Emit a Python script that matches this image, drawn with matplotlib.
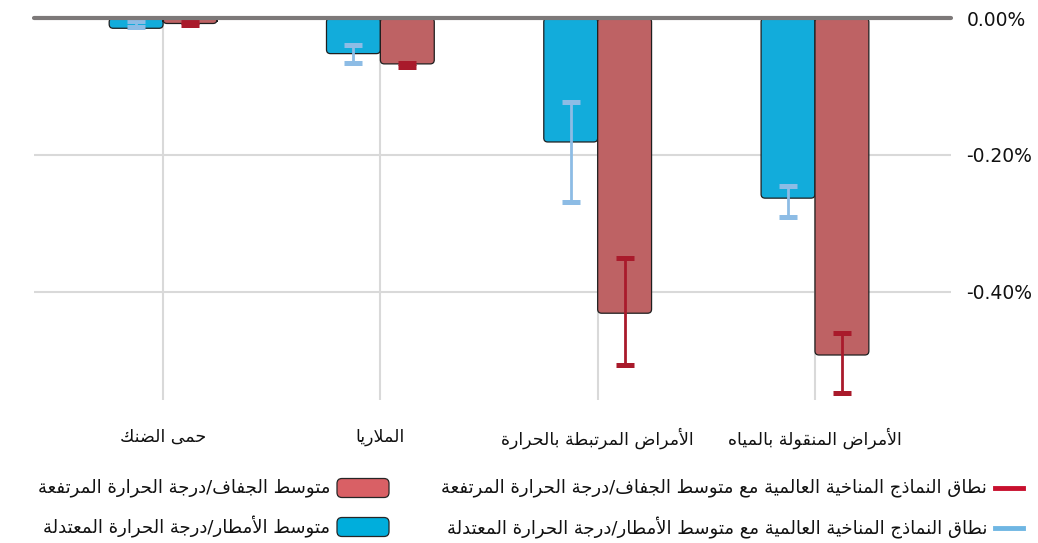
import matplotlib
matplotlib.use("Agg")
import matplotlib.pyplot as plt
from matplotlib.patches import FancyBboxPatch
from matplotlib.lines import Line2D
from matplotlib.transforms import IdentityTransform
from matplotlib.ticker import FixedLocator, FuncFormatter
import numpy as np

# ---------------------------------------------------------------- data (%)
categories = [
    "الأمراض المنقولة بالمياه",
    "الأمراض المرتبطة بالحرارة",
    "الملاريا",
    "حمى الضنك",
]
wet_mean = [-0.263, -0.181, -0.052, -0.015]      # متوسط الأمطار/درجة الحرارة المعتدلة
dry_mean = [-0.492, -0.431, -0.067, -0.008]      # متوسط الجفاف/درجة الحرارة المرتفعة
wet_range_hi = [-0.246, -0.123, -0.039, -0.004]
wet_range_lo = [-0.291, -0.269, -0.065, -0.013]
dry_range_hi = [-0.460, -0.350, -0.066, -0.006]
dry_range_lo = [-0.547, -0.507, -0.072, -0.010]
y_ticks = [0.0, -0.2, -0.4]

label_dry = "متوسط الجفاف/درجة الحرارة المرتفعة"
label_wet = "متوسط الأمطار/درجة الحرارة المعتدلة"
label_dry_rng = "نطاق النماذج المناخية العالمية مع متوسط الجفاف/درجة الحرارة المرتفعة"
label_wet_rng = "نطاق النماذج المناخية العالمية مع متوسط الأمطار/درجة الحرارة المعتدلة"

# ------------------------------------------------ minimal Arabic shaping
_LETTERS = "ءآأؤإئابةتثجحخدذرزسشصضطظعغفقكلمنهوىي"
_NFORMS = [1, 2, 2, 2, 2, 4, 2, 4, 2, 4, 4, 4, 4, 4, 2, 2, 2, 2,
           4, 4, 4, 4, 4, 4, 4, 4, 4, 4, 4, 4, 4, 4, 4, 2, 2, 4]
_FORMS = {}
_cp = 0xFE80
for _ch, _n in zip(_LETTERS, _NFORMS):
    _FORMS[_ch] = [chr(_cp + i) for i in range(_n)]
    _cp += _n
_LAM_ALEF = {"آ": 0xFEF5, "أ": 0xFEF7, "إ": 0xFEF9, "ا": 0xFEFB}


def shape_arabic(text):
    """Contextual forms + lam-alef ligatures, returned in visual order."""
    units = []
    i = 0
    while i < len(text):
        ch = text[i]
        if ch == "ل" and i + 1 < len(text) and text[i + 1] in _LAM_ALEF:
            base = _LAM_ALEF[text[i + 1]]
            units.append((ch, [chr(base), chr(base + 1)]))
            i += 2
            continue
        units.append((ch, _FORMS.get(ch)))
        i += 1
    out = []
    for k, (ch, forms) in enumerate(units):
        if forms is None:
            out.append(ch)
            continue
        if len(forms) == 1:
            out.append(forms[0])
            continue
        prev = units[k - 1][1] if k > 0 else None
        nxt = units[k + 1][1] if k + 1 < len(units) else None
        jp = prev is not None and len(prev) == 4
        jn = len(forms) == 4 and nxt is not None and len(nxt) >= 2
        if jp and jn:
            out.append(forms[3])
        elif jp:
            out.append(forms[1])
        elif jn:
            out.append(forms[2])
        else:
            out.append(forms[0])
    return "".join(reversed(out))


# ---------------------------------------------------------------- styling
W, H = 1038, 543
plt.rcParams["font.family"] = ["DejaVu Sans"]
plt.rcParams["axes.unicode_minus"] = False

C_WET = "#12acdb"
C_DRY = "#be6264"
C_WET_ERR = "#8dbce5"
C_DRY_ERR = "#a91a2b"
C_GRID = "#d9d9d9"
C_ZERO = "#7d7979"
C_TEXT = "#111111"

fig = plt.figure(figsize=(W / 100, H / 100), dpi=100)
ax = fig.add_axes([34 / W, 1 - 400 / H, (951 - 34) / W, (400 - 18) / H])

x = np.arange(len(categories))
bw = 0.248
ax.set_xlim(3.594, -0.626)          # right-to-left category order
ax.set_ylim(-0.5577, 0.0)

for s in ax.spines.values():
    s.set_visible(False)

# grid
for yv in y_ticks[1:]:
    ax.axhline(yv, color=C_GRID, lw=1.5, zorder=0)
for xv in x:
    ax.axvline(xv, color=C_GRID, lw=1.5, zorder=0)

# bars with rounded corners
px_x = (ax.get_xlim()[0] - ax.get_xlim()[1]) / (951 - 34)
px_y = (ax.get_ylim()[1] - ax.get_ylim()[0]) / (400 - 18)
bars_wet = ax.bar(x + bw / 2, wet_mean, bw, color=C_WET)
bars_dry = ax.bar(x - bw / 2, dry_mean, bw, color=C_DRY)
for bars, col in ((bars_wet, C_WET), (bars_dry, C_DRY)):
    for r in bars:
        r.set_visible(False)
        y0 = min(r.get_y(), r.get_y() + r.get_height())
        h = abs(r.get_height())
        x0 = min(r.get_x(), r.get_x() + r.get_width())
        w = abs(r.get_width())
        p = FancyBboxPatch((x0, y0), w, h,
                           boxstyle=f"round,pad=0,rounding_size={4 * px_x}",
                           mutation_aspect=px_y / px_x,
                           facecolor=col, edgecolor="#1f1f1f", lw=0.9, zorder=2)
        ax.add_patch(p)

# model ranges
for xs, lo, hi, col in ((x + bw / 2, wet_range_lo, wet_range_hi, C_WET_ERR),
                        (x - bw / 2, dry_range_lo, dry_range_hi, C_DRY_ERR)):
    lo = np.array(lo)
    hi = np.array(hi)
    ax.errorbar(xs, (lo + hi) / 2, yerr=(hi - lo) / 2, fmt="none", ecolor=col,
                elinewidth=2.0, capsize=6.2, capthick=3.6, zorder=3)

# zero line
ax.axhline(0, color=C_ZERO, lw=3.0, solid_capstyle="round", zorder=5, clip_on=False)

# axes ticks
ax.yaxis.tick_right()
ax.yaxis.set_major_locator(FixedLocator(y_ticks))
ax.yaxis.set_major_formatter(FuncFormatter(lambda v, _: f"{v:.2f}%"))
ax.tick_params(axis="y", length=0, pad=11, labelsize=13.5, labelcolor=C_TEXT)
ax.set_xticks(x, [shape_arabic(c) for c in categories])
ax.tick_params(axis="x", length=0, pad=20, labelsize=12.5, labelcolor=C_TEXT)

# legend (drawn in pixel coordinates)
pix = IdentityTransform()


def py(y):
    return H - y


def swatch(x0, yc, col):
    p = FancyBboxPatch((x0, py(yc) - 9.5), 52, 19,
                       boxstyle="round,pad=0,rounding_size=5",
                       facecolor=col, edgecolor="#262626", lw=0.9,
                       transform=pix)
    fig.add_artist(p)


LEG_FS = 13
swatch(337, 488, "#d96065")
swatch(337, 527, "#00aedc")
fig.text(330, py(488), shape_arabic(label_dry), transform=pix,
         ha="right", va="center", fontsize=LEG_FS, color=C_TEXT)
fig.text(330, py(527), shape_arabic(label_wet), transform=pix,
         ha="right", va="center", fontsize=LEG_FS, color=C_TEXT)

for yc, col in ((488, "#c8102e"), (528, "#6fb6e3")):
    fig.add_artist(Line2D([995, 1023], [py(yc), py(yc)], color=col, lw=3.5,
                          transform=pix))
fig.text(987, py(488), shape_arabic(label_dry_rng), transform=pix,
         ha="right", va="center", fontsize=LEG_FS, color=C_TEXT)
fig.text(987, py(528), shape_arabic(label_wet_rng), transform=pix,
         ha="right", va="center", fontsize=LEG_FS, color=C_TEXT)

fig.savefig("out.png", dpi=100)
